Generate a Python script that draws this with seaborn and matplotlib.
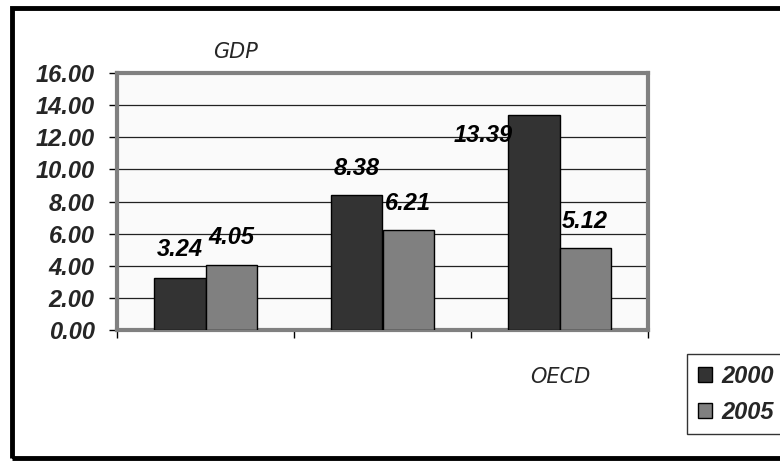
import matplotlib
matplotlib.use("Agg")
import matplotlib.pyplot as plt
import seaborn as sns
import pandas as pd
from matplotlib.patches import Patch, Rectangle

categories = ["Group A", "Group B", "Group C"]
years = ["2000", "2005"]
values_2000 = [3.24, 8.38, 13.39]
values_2005 = [4.05, 6.21, 5.12]
y_ticks = [0, 2, 4, 6, 8, 10, 12, 14, 16]
colors = ["#333333", "#808080"]

df = pd.DataFrame({
    "category": categories * 2,
    "year": [years[0]] * 3 + [years[1]] * 3,
    "value": values_2000 + values_2005,
})

sns.set_style("white")
plt.rcParams["font.family"] = ["Liberation Sans", "DejaVu Sans"]

FS = 17

fig = plt.figure(figsize=(7.8, 4.61), dpi=100)
ax = fig.add_axes([117 / 780, 1 - 330 / 461, (648 - 117) / 780, (330 - 73) / 461])

sns.barplot(data=df, x="category", y="value", hue="year", palette=colors,
            width=0.58, edgecolor="black", linewidth=1.0, saturation=1,
            ax=ax, legend=False, zorder=3)

ax.set_facecolor("#fafafa")
ax.set_xlim(-0.5, 2.5)
ax.set_ylim(0, 16)
ax.set_yticks(y_ticks)
ax.set_yticklabels([f"{v:.2f}" for v in y_ticks], fontsize=FS,
                   fontweight="bold", fontstyle="italic")
ax.yaxis.grid(True, color="#222222", linewidth=0.9, zorder=0)
ax.set_axisbelow(True)
ax.tick_params(axis="y", direction="out", length=6, width=1, color="black", pad=10, left=True)
ax.set_xticks([-0.5, 0.5, 1.5, 2.5])
ax.set_xticklabels([])
ax.tick_params(axis="x", direction="out", length=6, width=1, color="black", bottom=True)
ax.set_xlabel("")
ax.set_ylabel("")
for side in ["left", "top", "right", "bottom"]:
    ax.spines[side].set_visible(True)
    ax.spines[side].set_color("#808080")
    ax.spines[side].set_linewidth(3)

# value labels
offsets = {
    (0, 0): (0, 28), (0, 1): (0, 27),
    (1, 0): (0, 27), (1, 1): (0, 27),
    (2, 0): (-51, -21), (2, 1): (0, 26),
}
for hi, cont in enumerate(ax.containers):
    for ci, bar in enumerate(cont):
        h = bar.get_height()
        xc = bar.get_x() + bar.get_width() / 2
        dx, dy = offsets[(ci, hi)]
        ax.annotate(f"{h:.2f}", xy=(xc, h), xytext=(dx, dy),
                    textcoords="offset pixels", ha="center", va="center",
                    fontsize=FS, fontweight="bold", fontstyle="italic",
                    color="black", zorder=5)

# outer frame
fig.patches.append(Rectangle((12 / 780, 1 - 458 / 461), 1.2, (458 - 8) / 461,
                             transform=fig.transFigure, fill=False,
                             edgecolor="black", linewidth=3.5, zorder=10))

fig.text(235 / 780, 1 - 52 / 461, "GDP", fontsize=15, fontstyle="italic",
         ha="center", va="center", family=["DejaVu Sans"])
fig.text(560 / 780, 1 - 377 / 461, "OECD", fontsize=15, fontstyle="italic",
         ha="center", va="center", family=["DejaVu Sans"])

handles = [Patch(facecolor=c, edgecolor="black", linewidth=1) for c in colors]
leg = fig.legend(handles, years, loc="upper left",
                 bbox_to_anchor=(687 / 780, 1 - 354 / 461),
                 prop={"size": FS, "weight": "bold", "style": "italic"},
                 frameon=True, fancybox=False, handlelength=0.6, handleheight=0.6,
                 handletextpad=0.4, borderpad=0.45, labelspacing=0.55,
                 borderaxespad=0)
leg.get_frame().set_edgecolor("black")
leg.get_frame().set_linewidth(1)

fig.savefig("out.png", dpi=100)
